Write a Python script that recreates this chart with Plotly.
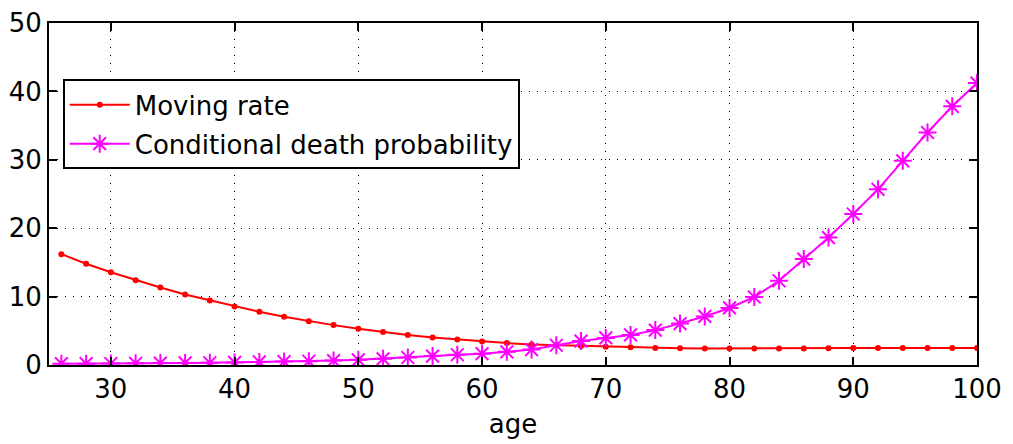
import plotly.graph_objects as go

ages = [26, 28, 30, 32, 34, 36, 38, 40, 42, 44, 46, 48, 50, 52, 54, 56, 58, 60, 62,
        64, 66, 68, 70, 72, 74, 76, 78, 80, 82, 84, 86, 88, 90, 92, 94, 96, 98, 100]
moving_rate = [16.2, 14.8, 13.56, 12.4, 11.33, 10.3, 9.43, 8.56, 7.78, 7.05, 6.41, 5.83,
               5.3, 4.81, 4.37, 4.03, 3.74, 3.45, 3.2, 3.0, 2.9, 2.77, 2.67, 2.58, 2.5,
               2.45, 2.43, 2.42, 2.42, 2.42, 2.43, 2.45, 2.47, 2.47, 2.47, 2.47, 2.47, 2.47]
death_prob = [0.2, 0.2, 0.22, 0.25, 0.28, 0.3, 0.33, 0.38, 0.45, 0.5, 0.55, 0.65,
              0.75, 0.9, 1.1, 1.3, 1.5, 1.65, 1.92, 2.26, 2.89, 3.5, 3.96, 4.4, 5.1,
              6.05, 7.1, 8.34, 9.94, 12.32, 15.48, 18.63, 22.08, 25.68, 29.85, 33.99,
              37.82, 41.22]
x_ticks = [30, 40, 50, 60, 70, 80, 90, 100]
y_ticks = [0, 10, 20, 30, 40, 50]

FONT = "DejaVu Sans"
FS = 26

fig = go.Figure()
fig.add_trace(go.Scatter(
    x=ages, y=moving_rate, mode="lines+markers", name="Moving rate",
    line=dict(color="#FF0000", width=2),
    marker=dict(symbol="circle", size=6, color="#FF0000"),
    legendgroup="a",
))
fig.add_trace(go.Scatter(
    x=ages, y=death_prob, mode="lines+markers", name="Conditional death probability",
    line=dict(color="#FF00FF", width=2),
    marker=dict(symbol="asterisk-open", size=15, color="#FF00FF",
                line=dict(color="#FF00FF", width=2)),
    legendgroup="b",
))

axis_common = dict(
    showline=True, linecolor="black", linewidth=2, mirror="allticks",
    ticks="inside", ticklen=8, tickwidth=1.5, tickcolor="black",
    showgrid=True, gridcolor="black", gridwidth=1, griddash="1px,7px",
    zeroline=False, automargin=False,
    tickfont=dict(family=FONT, size=FS, color="black"),
)

fig.update_layout(
    width=1013, height=444,
    margin=dict(l=49, r=36, t=23, b=79),
    paper_bgcolor="white", plot_bgcolor="white",
    showlegend=True,
    legend=dict(
        x=0.0148, y=0.835, xanchor="left", yanchor="top",
        bgcolor="white", bordercolor="black", borderwidth=2,
        font=dict(family=FONT, size=FS, color="black"),
        itemwidth=60, traceorder="grouped", tracegroupgap=2,
    ),
    xaxis=dict(range=[25, 100], tickvals=x_ticks,
               title=dict(text="age", font=dict(family=FONT, size=FS, color="black"),
                          standoff=12),
               **axis_common),
    yaxis=dict(range=[0, 50], tickvals=y_ticks, **axis_common),
)

fig.write_html(
    "out.html",
    config={"displayModeBar": False},
    post_script="document.body.style.margin='0';document.body.style.overflow='hidden';",
)
